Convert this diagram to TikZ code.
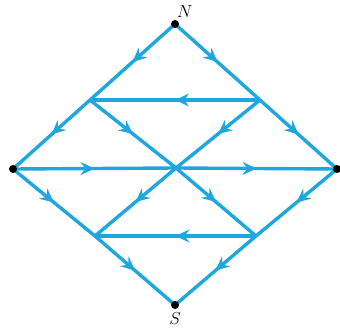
\documentclass[tikz,border=0pt]{standalone}
\usetikzlibrary{decorations.markings,arrows.meta}
\definecolor{edgeblue}{RGB}{30,166,222}
\tikzset{
  flow/.style={draw=edgeblue, line width=3.4pt, postaction={decorate},
    decoration={markings, mark=at position 0.5 with {\arrow{Stealth[length=14pt,width=13pt,inset=5pt,color=edgeblue]}}}},
  vertex/.style={circle, fill=black, inner sep=0pt, minimum size=8pt},
  lbl/.style={font=\fontsize{17}{20}\selectfont}
}
\begin{document}
\begin{tikzpicture}[x=1pt,y=-1pt]
\useasboundingbox (0,0) rectangle (340,334);
\coordinate (n) at (175,24);
\coordinate (w) at (13,169);
\coordinate (e) at (337,169);
\coordinate (s) at (175,305);
\coordinate (a) at (90,100);
\coordinate (b) at (260,100);
\coordinate (c) at (176,168);
\coordinate (d) at (95,236);
\coordinate (f) at (256,236);
\draw[flow] (n) -- (a);
\draw[flow] (a) -- (w);
\draw[flow] (n) -- (b);
\draw[flow] (b) -- (e);
\draw[flow] (b) -- (a);
\draw[flow] (a) -- (c);
\draw[flow] (b) -- (c);
\draw[flow] (w) -- (c);
\draw[flow] (c) -- (e);
\draw[flow] (w) -- (d);
\draw[flow] (c) -- (d);
\draw[flow] (c) -- (f);
\draw[flow] (e) -- (f);
\draw[flow] (f) -- (d);
\draw[flow] (d) -- (s);
\draw[flow] (f) -- (s);
\node[vertex] (N) at (n) {};
\node[vertex] (W) at (w) {};
\node[vertex] (E) at (e) {};
\node[vertex] (S) at (s) {};
\node[lbl, anchor=south west, inner sep=1pt] (NL) at (176,19) {$N$};
\node[lbl, anchor=north, inner sep=1pt] (SL) at (175,311) {$S$};
\end{tikzpicture}
\end{document}
